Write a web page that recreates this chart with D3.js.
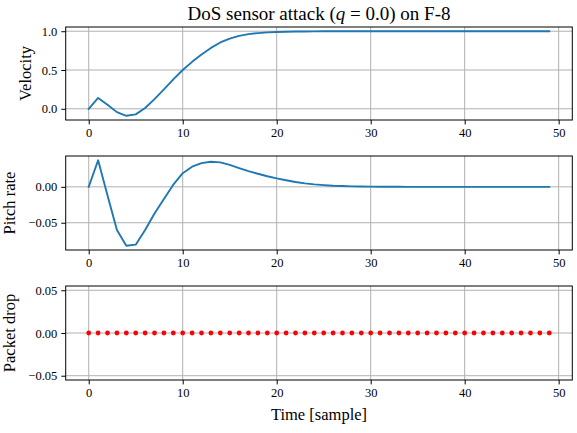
<!DOCTYPE html>
<html>
<head>
<meta charset="utf-8">
<script src="https://cdn.jsdelivr.net/npm/d3@7"></script>
<style>
  html, body { margin: 0; padding: 0; background: #fff; }
  svg text { font-family: "Liberation Serif", "DejaVu Serif", serif; fill: #000; }
</style>
</head>
<body>
<svg id="chart" width="577" height="433"></svg>
<script>
// Time samples
const samples = d3.range(50);

// Velocity response
const velocity = [
  0.000, 0.140, 0.052, -0.043, -0.090, -0.072, 0.010, 0.125, 0.250, 0.380,
  0.500, 0.605, 0.700, 0.785, 0.855, 0.905, 0.940, 0.962, 0.976, 0.985,
  0.990, 0.994, 0.996, 0.997, 0.998, 0.999, 0.999, 1.000, 1.000, 1.000,
  1.000, 1.000, 1.000, 1.000, 1.000, 1.000, 1.000, 1.000, 1.000, 1.000,
  1.000, 1.000, 1.000, 1.000, 1.000, 1.000, 1.000, 1.000, 1.000, 1.000
];

// Pitch rate response
const pitchRate = [
  0.0000, 0.0370, -0.0120, -0.0600, -0.0820, -0.0805, -0.0600, -0.0370, -0.0170, 0.0030,
  0.0190, 0.0280, 0.0330, 0.0350, 0.0340, 0.0305, 0.0262, 0.0220, 0.0182, 0.0148,
  0.0118, 0.0092, 0.0068, 0.0049, 0.0034, 0.0024, 0.0016, 0.0011, 0.0007, 0.0005,
  0.0003, 0.0002, 0.0001, 0.0001, 0.0000, 0.0000, 0.0000, 0.0000, 0.0000, 0.0000,
  0.0000, 0.0000, 0.0000, 0.0000, 0.0000, 0.0000, 0.0000, 0.0000, 0.0000, 0.0000
];

// Packet drop indicator (no drops)
const packetDrop = new Array(50).fill(0);

// Tick values
const xTicks = [0, 10, 20, 30, 40, 50];
const velocityTicks = [0.0, 0.5, 1.0];
const pitchTicks = [-0.05, 0.00];
const dropTicks = [-0.05, 0.00, 0.05];

const svg = d3.select("#chart");
const W = 577;
const left = 65.7, right = 572.3;
const lineColor = "#1f77b4";
const gridColor = "#b0b0b0";

// x domain with 5% margins
const xSpan = d3.max(samples) - d3.min(samples);
const x = d3.scaleLinear()
  .domain([d3.min(samples) - 0.05 * xSpan, d3.max(samples) + 0.05 * xSpan])
  .range([left, right]);

function paddedDomain(vals) {
  const [lo, hi] = d3.extent(vals);
  if (hi === lo) return [lo - 0.055, hi + 0.055];
  const m = 0.05 * (hi - lo);
  return [lo - m, hi + m];
}

const minus = s => s.replace("-", "\u2212");

function panel(cfg) {
  const { top, bottom, values, yTicks, yFmt, label, labelX, kind } = cfg;
  const y = d3.scaleLinear().domain(paddedDomain(values)).range([bottom, top]);
  const g = svg.append("g");

  // clip
  const clipId = "clip" + top;
  svg.append("clipPath").attr("id", clipId)
    .append("rect").attr("x", left).attr("y", top)
    .attr("width", right - left).attr("height", bottom - top);

  // grid
  const grid = g.append("g").attr("clip-path", `url(#${clipId})`);
  grid.selectAll(".gx").data(xTicks).enter().append("line")
    .attr("x1", d => x(d)).attr("x2", d => x(d))
    .attr("y1", top).attr("y2", bottom)
    .attr("stroke", gridColor).attr("stroke-width", 1);
  grid.selectAll(".gy").data(yTicks).enter().append("line")
    .attr("x1", left).attr("x2", right)
    .attr("y1", d => y(d)).attr("y2", d => y(d))
    .attr("stroke", gridColor).attr("stroke-width", 1);

  // data
  const data = samples.map((t, i) => [t, values[i]]);
  const plot = g.append("g").attr("clip-path", `url(#${clipId})`);
  if (kind === "line") {
    plot.append("path").datum(data)
      .attr("fill", "none").attr("stroke", lineColor)
      .attr("stroke-width", 1.9).attr("stroke-linejoin", "round").attr("stroke-linecap", "square")
      .attr("d", d3.line().x(d => x(d[0])).y(d => y(d[1])));
  } else {
    plot.selectAll("circle").data(data).enter().append("circle")
      .attr("cx", d => x(d[0])).attr("cy", d => y(d[1]))
      .attr("r", 2.4).attr("fill", "#ff0000");
  }

  // axes
  const xAxis = d3.axisBottom(x).tickValues(xTicks).tickSize(4.4).tickPadding(3.6)
    .tickFormat(d3.format("d"));
  const gx = g.append("g").attr("transform", `translate(0,${bottom})`).call(xAxis);
  const yAxis = d3.axisLeft(y).tickValues(yTicks).tickSize(4.4).tickPadding(4)
    .tickFormat(d => minus(d3.format(yFmt)(d)));
  const gy = g.append("g").attr("transform", `translate(${left},0)`).call(yAxis);
  [gx, gy].forEach(a => {
    a.select(".domain").remove();
    a.selectAll(".tick line").attr("stroke", "#000").attr("stroke-width", 1);
    a.selectAll(".tick text").style("font-size", "12.5px")
      .style("font-family", '"Liberation Serif", serif').attr("fill", "#000");
  });

  // frame
  g.append("rect").attr("x", left).attr("y", top)
    .attr("width", right - left).attr("height", bottom - top)
    .attr("fill", "none").attr("stroke", "#000").attr("stroke-width", 1);

  // y label
  g.append("text")
    .attr("transform", `translate(${labelX},${(top + bottom) / 2}) rotate(-90)`)
    .attr("text-anchor", "middle").attr("dominant-baseline", "central")
    .style("font-size", "16.5px").text(label);
}

panel({ top: 27, bottom: 120, values: velocity, yTicks: velocityTicks, yFmt: ".1f",
        label: "Velocity", labelX: 25, kind: "line" });
panel({ top: 156, bottom: 250, values: pitchRate, yTicks: pitchTicks, yFmt: ".2f",
        label: "Pitch rate", labelX: 9, kind: "line" });
panel({ top: 286, bottom: 380, values: packetDrop, yTicks: dropTicks, yFmt: ".2f",
        label: "Packet drop", labelX: 9, kind: "dots" });

// title
const title = svg.append("text")
  .attr("x", (left + right) / 2).attr("y", 20)
  .attr("text-anchor", "middle").style("font-size", "19px");
title.append("tspan").text("DoS sensor attack (");
title.append("tspan").style("font-style", "italic").text("q");
title.append("tspan").text(" = 0.0) on F-8");

// x label
svg.append("text")
  .attr("x", (left + right) / 2).attr("y", 420)
  .attr("text-anchor", "middle").style("font-size", "16.5px")
  .text("Time [sample]");
</script>
</body>
</html>
